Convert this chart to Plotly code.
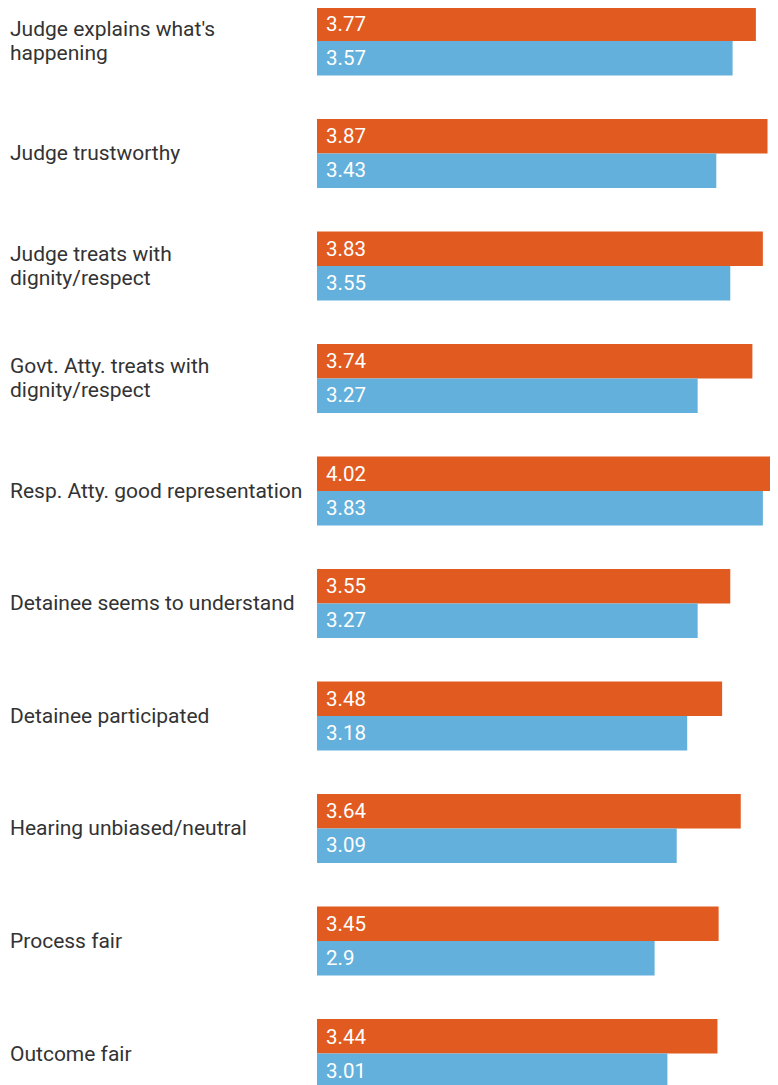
import plotly.graph_objects as go

categories = [
    "Judge explains what's<br>happening",
    "Judge trustworthy",
    "Judge treats with<br>dignity/respect",
    "Govt. Atty. treats with<br>dignity/respect",
    "Resp. Atty. good representation",
    "Detainee seems to understand",
    "Detainee participated",
    "Hearing unbiased/neutral",
    "Process fair",
    "Outcome fair",
]
series_a = [3.77, 3.87, 3.83, 3.74, 4.02, 3.55, 3.48, 3.64, 3.45, 3.44]
series_b = [3.57, 3.43, 3.55, 3.27, 3.83, 3.27, 3.18, 3.09, 2.9, 3.01]
labels_a = ["3.77", "3.87", "3.83", "3.74", "4.02", "3.55", "3.48", "3.64", "3.45", "3.44"]
labels_b = ["3.57", "3.43", "3.55", "3.27", "3.83", "3.27", "3.18", "3.09", "2.9", "3.01"]

ORANGE = "#E15A1F"
BLUE = "#62B0DB"
FONT = "Roboto"
LABEL_SIZE = 21
VALUE_SIZE = 20.5
LINE_GAP = 24

fig = go.Figure()
fig.add_trace(go.Bar(y=categories, x=series_a, orientation="h", marker=dict(color=ORANGE, line=dict(width=0)),
                     name="A", hoverinfo="skip"))
fig.add_trace(go.Bar(y=categories, x=series_b, orientation="h", marker=dict(color=BLUE, line=dict(width=0)),
                     name="B", hoverinfo="skip"))

annotations = []
for i, cat in enumerate(categories):
    lines = cat.split("<br>")
    n = len(lines)
    for j, line in enumerate(lines):
        shift = ((n - 1) / 2 - j) * LINE_GAP
        annotations.append(dict(x=-0.670, xref="paper", y=i, yref="y", text=line, showarrow=False,
                                xanchor="left", align="left", yshift=shift,
                                font=dict(family=FONT, size=LABEL_SIZE, color="#333333")))
    annotations.append(dict(x=0, xref="x", y=i, yref="y", text=labels_a[i], showarrow=False,
                            xanchor="left", xshift=7, yshift=17,
                            font=dict(family=FONT, size=VALUE_SIZE, color="white")))
    annotations.append(dict(x=0, xref="x", y=i, yref="y", text=labels_b[i], showarrow=False,
                            xanchor="left", xshift=7, yshift=-17,
                            font=dict(family=FONT, size=VALUE_SIZE, color="white")))

fig.update_layout(
    width=770, height=1077,
    margin=dict(l=309, r=0, t=0, b=0),
    barmode="group", bargap=0.387, bargroupgap=0,
    showlegend=False,
    plot_bgcolor="white", paper_bgcolor="white",
    font=dict(family=FONT),
    xaxis=dict(range=[0, 3.96], visible=False, fixedrange=True),
    yaxis=dict(range=[9.28, -0.293], visible=False, fixedrange=True),
    annotations=annotations,
)

fig.write_html("out.html", config={"displayModeBar": False})
